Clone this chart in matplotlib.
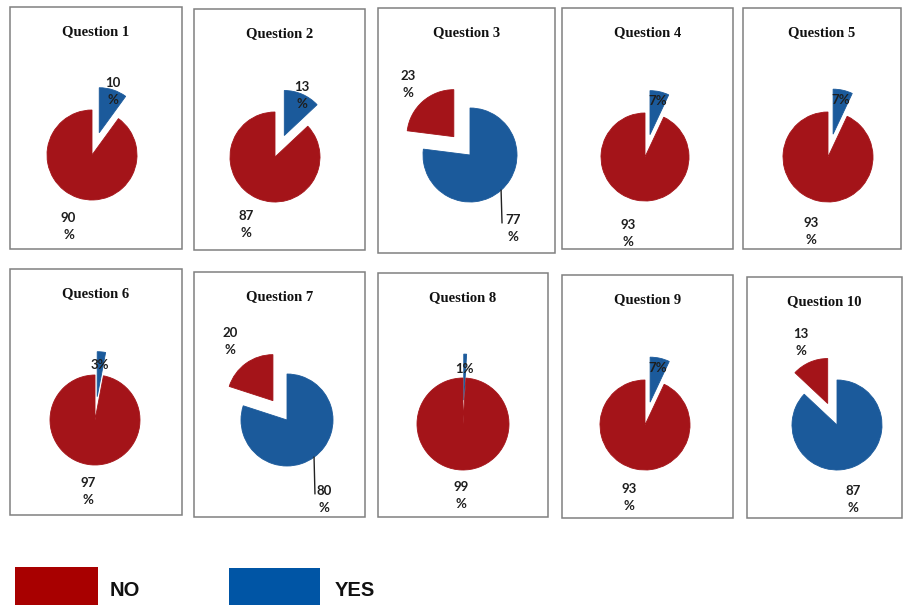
import numpy as np
import matplotlib
matplotlib.use("Agg")
import matplotlib.pyplot as plt
from matplotlib.patches import Rectangle

questions = ["Question 1", "Question 2", "Question 3", "Question 4", "Question 5",
             "Question 6", "Question 7", "Question 8", "Question 9", "Question 10"]
yes_pct = [10, 13, 77, 7, 7, 3, 80, 1, 7, 87]
no_pct = [90, 87, 23, 93, 93, 97, 20, 99, 93, 13]
legend_labels = ["NO", "YES"]

NO_COLOR = "#A41419"
YES_COLOR = "#1B5A9B"
LEG_NO = "#A80000"
LEG_YES = "#0055A5"

W, H = 904, 605

# layout in pixels: box (x0, y0, x1, y1), pie centre, pie radius
boxes = [(10, 7, 182, 249), (194, 9, 365, 250), (378, 8, 555, 253), (562, 8, 733, 249),
         (743, 8, 901, 249), (10, 269, 182, 515), (194, 272, 365, 517), (378, 273, 548, 517),
         (562, 275, 733, 518), (747, 277, 902, 518)]
centers = [(92, 155), (275, 157), (470, 155), (645, 157), (828, 157),
           (95, 420), (287, 420), (463, 424), (645, 425), (837, 425)]
radii = [45, 45, 47, 44, 45, 45, 46, 46, 45, 45]
small_dist = [1.49, 1.5, 2.0, 1.3, 1.3, 1.22, 2.1, 1.2, 1.3, 2.0]
big_dist = [1.68, 1.64, 1.81, 1.77, 1.7, 1.6, 1.9, 1.55, 1.64, 1.7]

fig = plt.figure(figsize=(W / 100, H / 100), dpi=100)
fig.patch.set_facecolor("white")


def fx(x):
    return x / W


def fy(y):
    return 1 - y / H


for i, q in enumerate(questions):
    x0, y0, x1, y1 = boxes[i]
    fig.add_artist(Rectangle((fx(x0), fy(y1)), fx(x1 - x0), (y1 - y0) / H,
                             transform=fig.transFigure, fill=False,
                             edgecolor="#808080", linewidth=1.1))
    fig.text(fx((x0 + x1) / 2), fy(y0 + 25), q, ha="center", va="center",
             family="Liberation Serif", weight="bold", fontsize=10.5, color="#111111")

    cx, cy = centers[i]
    r = radii[i]
    L = 110
    ax = fig.add_axes([fx(cx - L), fy(cy + L), 2 * L / W, 2 * L / H])
    vals = [yes_pct[i], no_pct[i]]
    small = int(np.argmin(vals))
    explode = [0.52 if k == small else 0 for k in range(2)]
    wedges, _ = ax.pie(vals, colors=[YES_COLOR, NO_COLOR], startangle=90,
                       counterclock=False, explode=explode,
                       wedgeprops=dict(linewidth=0.6))
    for w in wedges:
        w.set_edgecolor(w.get_facecolor())
    lim = L / r
    ax.set_xlim(-lim, lim)
    ax.set_ylim(-lim, lim)
    ax.axis("off")

    # percentage labels around the wedges
    for k, w in enumerate(wedges):
        mid = (w.theta1 + w.theta2) / 2
        v = vals[k]
        txt = f"{v}\n%" if v >= 10 else f"{v}%"
        if k == small:
            d = small_dist[i]
            ang = mid
        else:
            d = big_dist[i]
            ang = mid - 11 if k == 0 else mid
        tx = d * np.cos(np.radians(ang))
        ty = d * np.sin(np.radians(ang))
        ax.text(tx, ty, txt, ha="center", va="center", family="Lato",
                weight="bold", fontsize=9.5, color="#1e1e1e", linespacing=1.5)
        if k != small and k == 0 and v < 85:
            sx = np.cos(np.radians(mid))
            sy = np.sin(np.radians(mid))
            ax.plot([sx, sx + 0.02], [sy, ty + 0.12], color="#222222", lw=1.0)

# legend
fig.add_artist(Rectangle((fx(15), 0), fx(83), (H - 567) / H, transform=fig.transFigure,
                         facecolor=LEG_NO, edgecolor="none"))
fig.add_artist(Rectangle((fx(229), 0), fx(91), (H - 568) / H, transform=fig.transFigure,
                         facecolor=LEG_YES, edgecolor="none"))
fig.text(fx(110), fy(590), legend_labels[0], ha="left", va="center",
         family="Liberation Sans", weight="bold", fontsize=14.5, color="#111111")
fig.text(fx(335), fy(590), legend_labels[1], ha="left", va="center",
         family="Liberation Sans", weight="bold", fontsize=14.5, color="#111111")

fig.savefig("out.png", dpi=100, facecolor="white")
